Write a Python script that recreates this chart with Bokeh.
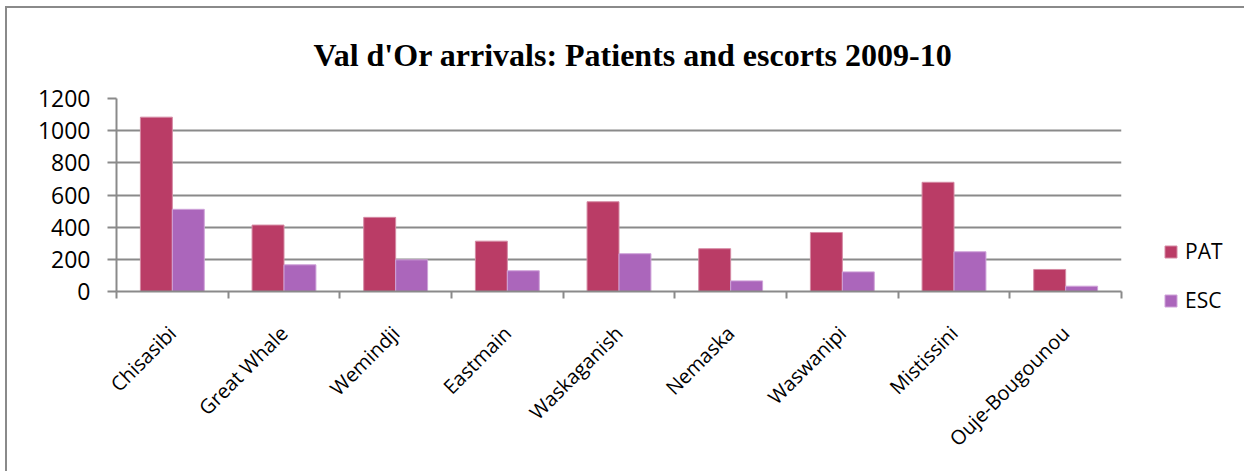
import math
from bokeh.plotting import figure
from bokeh.models import (ColumnDataSource, Range1d, LinearAxis,
                          FixedTicker, Legend, LegendItem)
from bokeh.transform import dodge
from bokeh.embed import file_html
from bokeh.resources import INLINE

# ---- data ----
communities = ["Chisasibi", "Great Whale", "Wemindji", "Eastmain", "Waskaganish",
               "Nemaska", "Waswanipi", "Mistissini", "Ouje-Bougounou"]
pat = [1084, 413, 461, 313, 558, 266, 367, 679, 137]
esc = [511, 166, 197, 129, 235, 66, 122, 247, 33]
y_ticks = [0, 200, 400, 600, 800, 1000, 1200]
series_names = ["PAT", "ESC"]
title_text = "Val d'Or arrivals: Patients and escorts 2009-10"

PAT_COLOR = "#BA3C66"
ESC_COLOR = "#AB66BB"
GRID = "#8a8a8a"

n = len(communities)
centers = [i + 0.5 for i in range(n)]          # slot centre of each community
bounds = list(range(n + 1))                     # slot boundaries
source = ColumnDataSource(data=dict(x=centers, cat=communities, pat=pat, esc=esc))

p = figure(x_range=Range1d(0, n), y_range=Range1d(0, 1200),
           frame_width=1005, frame_height=193,
           output_backend="svg", toolbar_location=None,
           x_axis_location=None, title=title_text,
           min_border_left=109, min_border_right=122,
           min_border_top=89, min_border_bottom=180)

p.styles = {"border-top": "2px solid #8a8a8a", "border-left": "2px solid #8a8a8a",
            "border-right": "none", "border-bottom": "none",
            "margin-left": "5px", "margin-top": "6px"}

p.outline_line_color = None
p.background_fill_color = "white"
p.border_fill_color = "white"
p.xgrid.visible = False

# title
p.title.align = "left"
p.title.offset = 197
p.title.text_font = "Liberation Serif"
p.title.text_font_style = "bold"
p.title.text_font_size = "32px"
p.title.text_color = "black"
p.title.standoff = 52

# bars
bw = 0.286
r1 = p.vbar(x=dodge("x", -bw / 2), top="pat", width=bw,
            source=source, fill_color=PAT_COLOR, line_color="#d58aa4", line_width=1)
r2 = p.vbar(x=dodge("x", bw / 2), top="esc", width=bw,
            source=source, fill_color=ESC_COLOR, line_color="#cfa3d9", line_width=1)

# y axis
p.yaxis.ticker = FixedTicker(ticks=y_ticks)
p.yaxis.axis_line_color = GRID
p.yaxis.axis_line_width = 2
p.yaxis.major_tick_line_color = GRID
p.yaxis.major_tick_line_width = 2
p.yaxis.major_tick_in = 0
p.yaxis.major_tick_out = 9
p.yaxis.minor_tick_line_color = None
p.yaxis.major_label_text_font = "Open Sans"
p.yaxis.major_label_text_font_size = "23px"
p.yaxis.major_label_text_color = "black"
p.yaxis.major_label_standoff = 17
p.ygrid.grid_line_color = GRID
p.ygrid.grid_line_width = 2

# x axis: labels at slot centres, tick marks at slot boundaries (minor ticks)
cat_axis = LinearAxis(ticker=FixedTicker(ticks=centers, minor_ticks=bounds),
                      major_label_overrides={c: name for c, name in zip(centers, communities)},
                      major_label_orientation=math.pi / 4,
                      major_tick_line_color=None,
                      minor_tick_line_color=GRID, minor_tick_line_width=2,
                      minor_tick_in=0, minor_tick_out=7,
                      axis_line_color=GRID, axis_line_width=2,
                      major_label_text_font="Open Sans",
                      major_label_text_font_size="20px",
                      major_label_text_color="black",
                      major_label_standoff=31)
p.add_layout(cat_axis, "below")

# legend
legend = Legend(items=[LegendItem(label=series_names[0], renderers=[r1]),
                       LegendItem(label=series_names[1], renderers=[r2])],
                location=(42, -23), glyph_width=15, glyph_height=15,
                label_standoff=7, spacing=21, padding=0, margin=0,
                border_line_color=None, background_fill_alpha=0,
                label_text_font="Open Sans", label_text_font_size="21px",
                label_text_color="black")
p.add_layout(legend, "right")

open("out.html", "w").write(file_html(p, INLINE))
